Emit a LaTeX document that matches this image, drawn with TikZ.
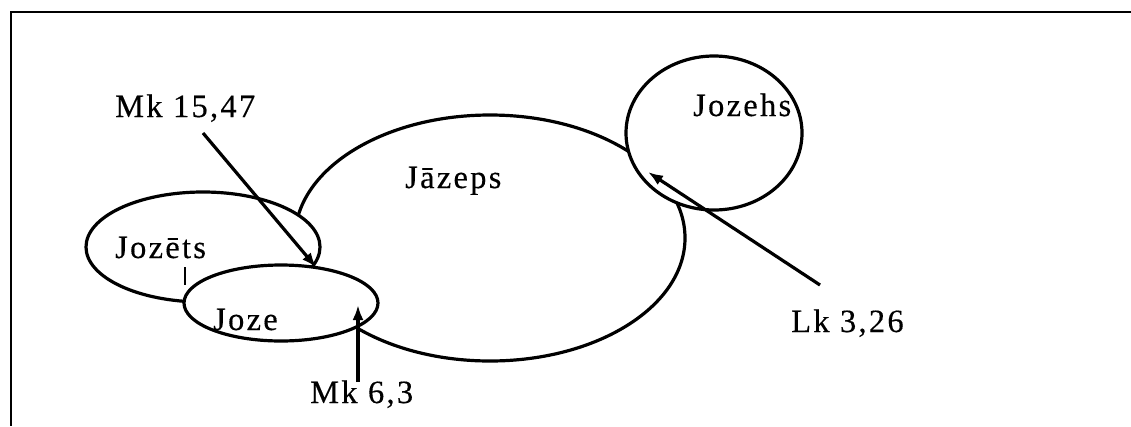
\documentclass[tikz,border=0pt]{standalone}
\usepackage{fontspec}
\setmainfont{Liberation Serif}[LetterSpace=7,FakeBold=0.35]
\usetikzlibrary{shapes.geometric,arrows.meta,calc,positioning}
\tikzset{
        namering/.style = {draw, ellipse, fill=white, line width=3.2pt,
            inner sep=0pt, outer sep=0pt},
        word/.style = {inner sep=0pt, anchor=base west,
            font=\fontsize{32.5}{38}\selectfont},
        pointer/.style = {draw, line width=3.2pt, -{Latex[length=15pt,width=11pt]}},
        tick/.style = {draw, line width=1.6pt},
    }

\begin{document}
\begin{tikzpicture}[x=1pt,y=-1pt]
    \useasboundingbox (0,0) rectangle (1131,426);
    % frame (only top and left edges show)
    \draw[line width=2.4pt] (1131,12) -- (11,12) -- (11,426);

    % the names as overlapping rings, later ones on top
    \node[namering, minimum width=390pt, minimum height=246pt] (jazeps) at (490,238) {};
    \node[namering, minimum width=176pt, minimum height=154pt] (jozehs) at (714,133) {};
    \node[namering, minimum width=234pt, minimum height=110pt] (jozets) at (203,247) {};
    \node[namering, minimum width=194pt, minimum height=76pt] (joze) at (281,303) {};

    \node[word] (jazepsL) at (405,188) {Jāzeps};
    \node[word] (jozehsL) at (693,116) {Jozehs};
    \node[word] (jozetsL) at (115,258) {Jozēts};
    \node[word] (jozeL) at (213,330) {Joze};

    \node[word] (mk1547) at (115,117) {Mk 15,47};
    \node[word] (mk63) at (310,403) {Mk 6,3};
    \node[word] (lk326) at (791,332) {Lk 3,26};

    %\coordinate (tip63) at (358,305);
    \coordinate (tip63) at ($ (joze.center) + (77,2) $);
    \coordinate (tip326) at ($ (jozehs.center) + (-66,39) $);

    \draw[pointer] ($ (mk1547.base west) + (88,16) $) -- (joze.45);
    \draw[pointer] ($ (mk63.base west) + (48,-21) $) -- (tip63);
    \draw[pointer] ($ (lk326.base west) + (29,-47) $) -- (tip326);
    \draw[tick] ($ (jozetsL.base west) + (70,9) $) -- ++(0,18);
\end{tikzpicture}
\end{document}
